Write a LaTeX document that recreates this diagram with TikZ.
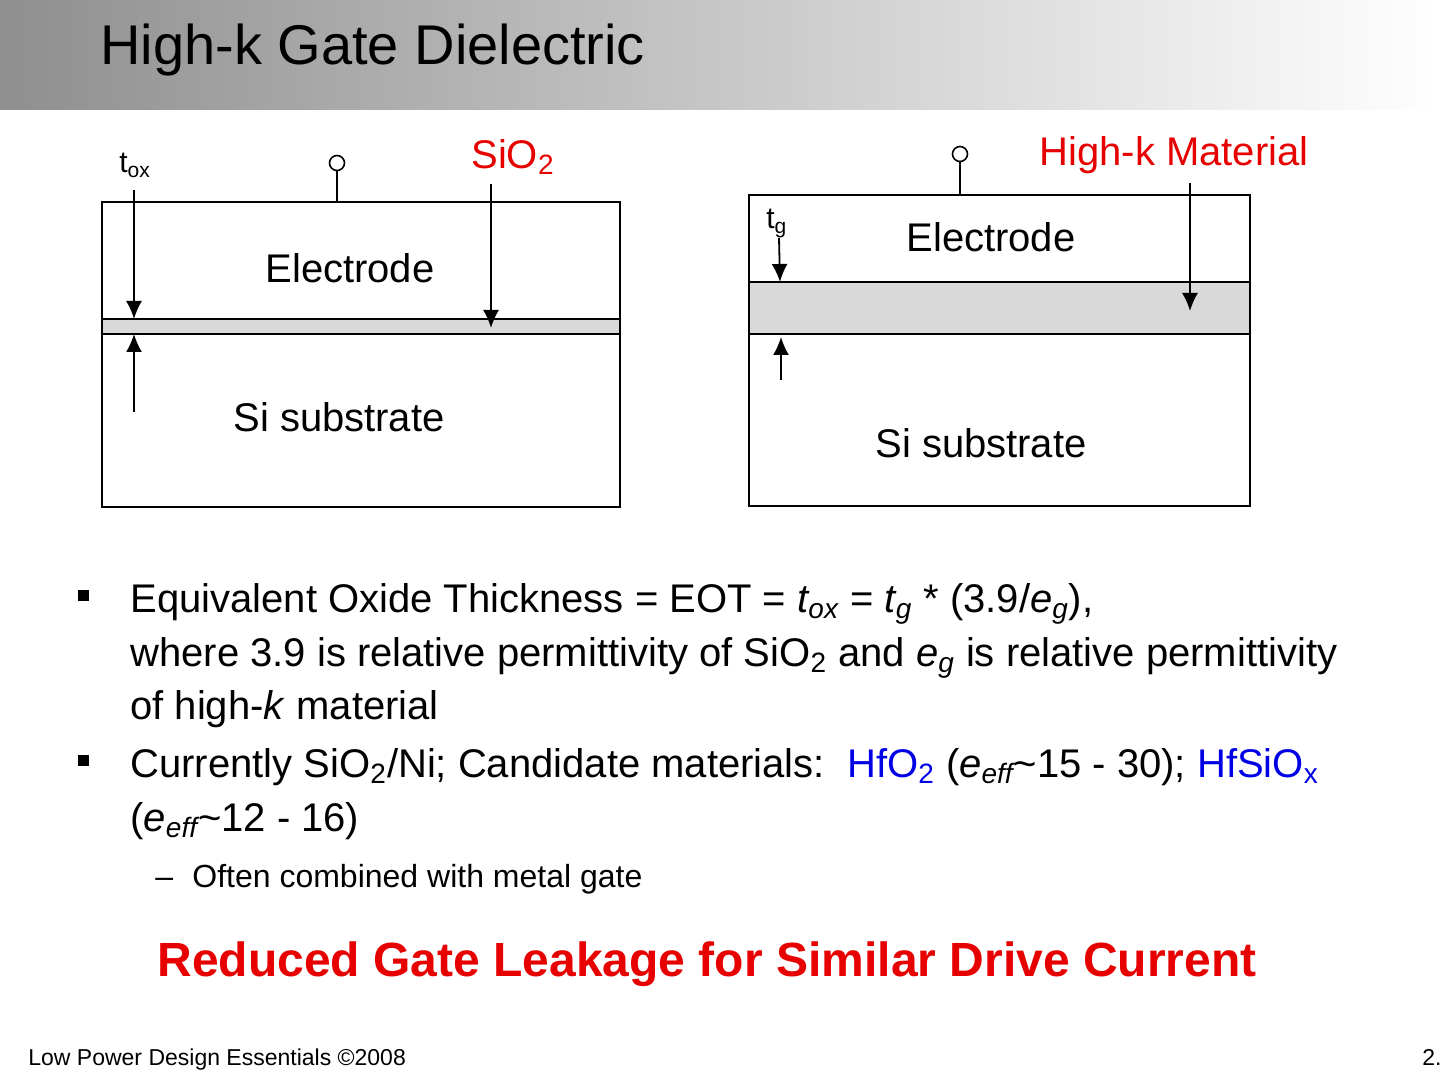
\documentclass[tikz,border=0pt]{standalone}
\usepackage{fontspec}
\setmainfont{Liberation Sans}
\usepackage{tikz}
\usetikzlibrary{positioning}
\usetikzlibrary{arrows.meta}
\usepackage{xcolor}
\definecolor{slidered}{RGB}{230,0,0}
\definecolor{slideblue}{RGB}{0,0,230}
\definecolor{layergray}{RGB}{217,217,217}
\newcommand{\sbs}[1]{\textsubscript{#1}}
\newcommand{\bodyfont}{\fontsize{20}{24}\selectfont}

\begin{document}
\begin{tikzpicture}[x=0.5pt, y=-0.5pt,
    every node/.style={font=\bodyfont, inner sep=0pt},
    stack/.style={line width=1.2pt},
    wire/.style={line width=0.8pt},
    dim/.style={-{Latex[length=9pt,width=8pt]}, line width=0.9pt},
    term/.style={circle, draw, line width=0.8pt, minimum size=7.5pt},
    redlbl/.style={text=slidered},
    body/.style={anchor=base west},
    bulletsq/.style={fill, minimum size=5.5pt}]
\useasboundingbox (0,0) rectangle (1440,1080);

% header bar
\shade[left color=black!44, right color=white] (0,0) rectangle (1440,110);
\node (title) [body, font=\fontsize{28}{30}\selectfont] at (100,65) {High-k Gate Dielectric};

% SiO2 gate stack
\draw[stack] (102,202) rectangle (620,507);
\filldraw[stack, fill=layergray] (102,319) rectangle (620,334);
\node (elecL) at (350,268) {Electrode};
\node (subL) at (339,417) {Si substrate};
\node (termL) [term] at (337,163) {};
\coordinate (gateL) at (337,202);
\draw[wire] (termL) -- (gateL);
\node (tox) [body] at (119,173) {\fontsize{15}{15}\selectfont t\sbs{ox}};
\coordinate (toxA) at (134,190);
\coordinate (toxB) at (134,319);
\coordinate (toxC) at (134,412);
\coordinate (toxD) at (134,334);
\draw[dim] (toxA) -- (toxB);
\draw[dim] (toxC) -- (toxD);
\node (sio2) [redlbl] at (513,157) {SiO\sbs{2}};
\coordinate (sio2A) at (491,184);
\coordinate (sio2B) at (491,328);
\draw[dim] (sio2A) -- (sio2B);

% high-k gate stack
\draw[stack] (749,195) rectangle (1250,506);
\filldraw[stack, fill=layergray] (749,282) rectangle (1250,334);
\node (elecR) at (991,237) {Electrode};
\node (subR) at (981,443) {Si substrate};
\node (termR) [term] at (960,154) {};
\coordinate (gateR) at (960,195);
\draw[wire] (termR) -- (gateR);
\node (tg) [body] at (766,229) {\fontsize{15}{15}\selectfont t\sbs{g}};
\coordinate (tgA) at (779,238);
\coordinate (tgB) at (780,282);
\coordinate (tgC) at (781,380);
\coordinate (tgD) at (781,337);
\draw[dim] (tgA) -- (tgB);
\draw[dim] (tgC) -- (tgD);
\node (hk) [redlbl] at (1174,155) {High-k Material};
\coordinate (hkA) at (1190,183);
\coordinate (hkB) at (1190,311);
\draw[dim] (hkA) -- (hkB);

% bullet text
\node (m1) [bulletsq] at (83,595) {};
\node (b1) [body] at (130,612) {Equivalent Oxide Thickness = EOT = \textit{t\sbs{ox}} = \textit{t\sbs{g}} * (3.9/\textit{e\sbs{g}}),};
\node (b2) [body] at (130,666) {where 3.9 is relative permittivity of SiO\sbs{2} and \textit{e\sbs{g}} is relative permittivity};
\node (b3) [body] at (130,719) {of high-\textit{k} material};
\node (m2) [bulletsq] at (83,760) {};
\node (b4) [body] at (130,777) {Currently SiO\sbs{2}/Ni; Candidate materials:\ \ \textcolor{slideblue}{HfO\sbs{2}} (\textit{e\sbs{eff}}\textasciitilde15 - 30); \textcolor{slideblue}{HfSiO\sbs{x}}};
\node (b5) [body] at (130,831) {(\textit{e\sbs{eff}}\textasciitilde12 - 16)};
\node (m3) [body, font=\fontsize{16}{18}\selectfont] at (155,887) {--};
\node (b6) [body, font=\fontsize{16}{18}\selectfont] at (192,887) {Often combined with metal gate};

\node (punch) [text=slidered, font=\fontsize{24}{28}\bfseries\selectfont] at (707,964) {Reduced Gate Leakage for Similar Drive Current};

% footer
\node (foot) [body, font=\fontsize{11.5}{13}\selectfont] at (28,1065) {Low Power Design Essentials \textcopyright2008};
\node (page) [body, font=\fontsize{11.5}{13}\selectfont] at (1422,1065) {2.};
\end{tikzpicture}
\end{document}
